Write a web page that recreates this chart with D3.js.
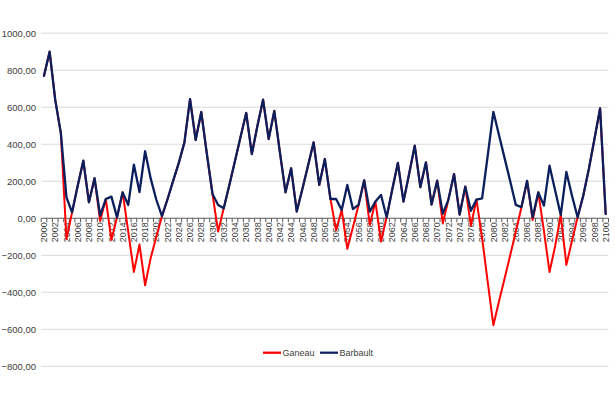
<!DOCTYPE html>
<html>
<head>
<meta charset="utf-8">
<script src="https://cdn.jsdelivr.net/npm/d3@7"></script>
<style>
  html, body { margin: 0; padding: 0; background: #fff; }
  svg { display: block; }
  text { font-family: "Liberation Sans", Arial, sans-serif; }
</style>
</head>
<body>
<div id="chart"></div>
<script>
const years = d3.range(2000, 2101);

const barbault = [
  770, 900, 640, 460, 113, 32, 176, 311, 86, 216,
  15, 104, 117, 5, 140, 72, 290, 142, 362, 214,
  100, 11, 104, 203, 299, 410, 644, 423, 574, 347,
  131, 72, 54, 180, 310, 440, 569, 347, 500, 641,
  428, 580, 356, 140, 270, 36, 158, 284, 410, 180,
  320, 104, 104, 45, 180, 50, 72, 205, 36, 90,
  126, 5, 155, 299, 90, 239, 392, 168, 302, 74,
  203, 25, 101, 239, 20, 171, 40, 101, 108, 340,
  575, 450, 325, 200, 72, 60, 202, 5, 140, 68,
  284, 150, 18, 250, 122, 5, 122, 266, 428, 594,
  23
];

const ganeau = [
  770, 900, 640, 460, -113, 32, 176, 311, 86, 216,
  -15, 104, -117, 5, 140, -72, -290, -142, -362, -214,
  -100, 11, 104, 203, 299, 410, 644, 423, 574, 347,
  131, -72, 54, 180, 310, 440, 569, 347, 500, 641,
  428, 580, 356, 140, 270, 36, 158, 284, 410, 180,
  320, 104, -65, 45, -165, -48, 72, 205, -36, 90,
  -126, 5, 155, 299, 90, 239, 392, 168, 302, 74,
  203, -28, 101, 239, 20, 171, -40, 101, -108, -345,
  -578, -450, -325, -200, -72, 60, 202, -10, 140, -68,
  -290, -150, 18, -252, -122, 5, 122, 266, 428, 594,
  23
];

const yTicks = [1000, 800, 600, 400, 200, 0, -200, -400, -600, -800];
const xLabelYears = d3.range(2000, 2101, 2);
const seriesNames = ["Ganeau", "Barbault"];
const seriesColors = ["#ff0000", "#0a1f5c"];

const W = 615, H = 395;
const svg = d3.select("#chart").append("svg")
  .attr("width", W).attr("height", H)
  .style("background", "#fff");

const x = d3.scaleLinear().domain([2000, 2100]).range([44, 605.7]);
const y = d3.scaleLinear().domain([-800, 1000]).range([366.3, 33.2]);
const step = x(2001) - x(2000);
const plotLeft = x(2000) - step / 2, plotRight = x(2100) + step / 2;

// gridlines
svg.append("g").selectAll("line")
  .data(yTicks.filter(d => d !== 0))
  .join("line")
  .attr("x1", plotLeft).attr("x2", plotRight)
  .attr("y1", d => y(d)).attr("y2", d => y(d))
  .attr("stroke", "#d9d9d9").attr("stroke-width", 1);

// y labels
svg.append("g").selectAll("text")
  .data(yTicks)
  .join("text")
  .attr("x", 36).attr("y", d => y(d))
  .attr("dy", "0.35em")
  .attr("text-anchor", "end")
  .attr("font-size", 9.5)
  .attr("fill", "#404040")
  .text(d => d3.format(".2f")(d).replace(".", ","));

// x axis line at 0
const y0 = y(0);
svg.append("line")
  .attr("x1", plotLeft).attr("x2", plotRight)
  .attr("y1", y0).attr("y2", y0)
  .attr("stroke", "#595959").attr("stroke-width", 1);

// tick marks at category boundaries
const tickPos = d3.range(0, years.length + 1).map(i => plotLeft + i * step);
svg.append("g").selectAll("line")
  .data(tickPos)
  .join("line")
  .attr("x1", d => d).attr("x2", d => d)
  .attr("y1", y0).attr("y2", y0 + 4)
  .attr("stroke", "#595959").attr("stroke-width", 1);

// x labels
svg.append("g").selectAll("text")
  .data(xLabelYears)
  .join("text")
  .attr("transform", d => `translate(${x(d)},${y0 + 4}) rotate(-90)`)
  .attr("dy", "0.35em")
  .attr("text-anchor", "end")
  .attr("font-size", 9)
  .attr("fill", "#404040")
  .text(d => d);

// lines
const line = d3.line()
  .x((d, i) => x(years[i]))
  .y(d => y(d));

const widths = [2.0, 2.3];
[ganeau, barbault].forEach((vals, k) => {
  svg.append("path")
    .datum(vals)
    .attr("d", line)
    .attr("fill", "none")
    .attr("stroke", seriesColors[k])
    .attr("stroke-width", widths[k])
    .attr("stroke-linejoin", "round")
    .attr("stroke-linecap", "round");
});

// legend
const legend = svg.append("g");
const legendItems = [
  { name: seriesNames[0], color: seriesColors[0], x0: 263 },
  { name: seriesNames[1], color: seriesColors[1], x0: 320 }
];
legendItems.forEach(it => {
  legend.append("line")
    .attr("x1", it.x0).attr("x2", it.x0 + 18)
    .attr("y1", 352.7).attr("y2", 352.7)
    .attr("stroke", it.color).attr("stroke-width", 2.25);
  legend.append("text")
    .attr("x", it.x0 + 19.5).attr("y", 352.7)
    .attr("dy", "0.35em")
    .attr("font-size", 9)
    .attr("fill", "#404040")
    .text(it.name);
});
</script>
</body>
</html>
